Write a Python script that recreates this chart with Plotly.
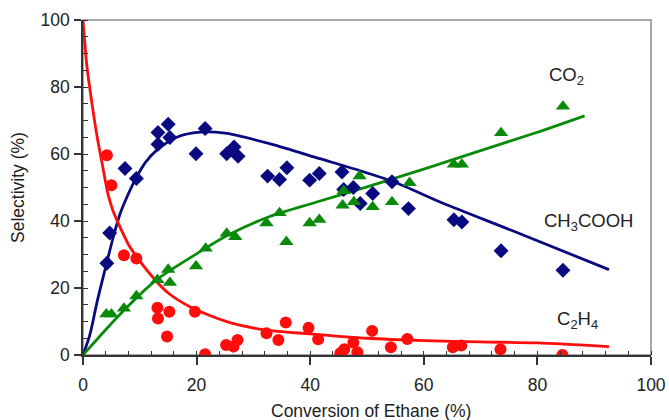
import plotly.graph_objects as go

# ---- data ----
acid_x = [4.2, 4.7, 7.4, 9.4, 13.2, 15.0, 13.2, 15.3, 21.5, 19.9, 25.3, 26.6, 27.3, 32.5, 34.6, 35.9,
          39.9, 41.6, 45.6, 47.6, 45.9, 48.8, 51.0, 54.4, 57.3, 65.3, 66.7, 73.6, 84.5]
acid_y = [27.4, 36.4, 55.7, 52.7, 66.4, 68.9, 62.9, 64.9, 67.6, 60.1, 60.1, 62.1, 59.3, 53.4, 52.4, 55.9,
          52.2, 54.2, 54.6, 50.0, 49.4, 45.2, 48.2, 51.7, 43.7, 40.4, 39.7, 31.1, 25.3]

co2_x = [4.1, 5.0, 7.2, 9.4, 13.1, 15.0, 15.3, 19.9, 21.6, 25.3, 26.8, 32.3, 34.6, 35.8, 39.9, 41.6,
         45.7, 47.7, 51.0, 54.4, 48.7, 45.9, 57.5, 65.3, 66.7, 73.6, 84.5]
co2_y = [12.2, 12.2, 13.9, 17.6, 22.4, 25.5, 21.6, 26.5, 31.8, 36.3, 35.3, 39.4, 42.4, 33.8, 39.4, 40.4,
         44.7, 45.7, 44.2, 45.7, 53.4, 49.0, 51.4, 56.9, 56.9, 66.3, 74.2]

eth_x = [4.2, 5.0, 7.2, 9.4, 13.1, 13.2, 15.2, 14.8, 19.7, 21.5, 25.2, 26.5, 27.2, 32.3, 34.4, 35.7,
         39.7, 41.4, 45.3, 46.0, 47.6, 48.3, 50.9, 54.2, 57.1, 65.1, 66.6, 73.5, 84.4]
eth_y = [59.6, 50.7, 29.8, 28.8, 14.1, 10.9, 12.9, 5.5, 12.9, 0.2, 3.0, 2.5, 4.5, 6.5, 4.5, 9.7,
         8.1, 4.7, 0.5, 1.7, 3.7, 0.8, 7.2, 2.3, 4.8, 2.3, 2.8, 1.7, 0.0]

# fitted model curves
acid_fit_x = [0, 1.2, 2.5, 4.1, 5.3, 6.5, 7.7, 9.4, 11, 12.9, 16.5, 20.6, 25, 33, 41.7, 48.8, 54.7, 63.5, 75.3, 92.6]
acid_fit_y = [0, 6, 16, 27, 35, 42, 47, 53, 57.5, 61, 65, 66.5, 66.2, 63, 58.6, 55, 51.7, 45.2, 37.3, 25.5]

co2_fit_x = [0, 7, 13, 20, 25.3, 33, 41, 50, 60, 70, 80, 88.3]
co2_fit_y = [0, 13, 22.5, 30.2, 35.6, 41.4, 45.6, 50.2, 55.5, 61, 66.5, 71.4]

eth_fit_x = [0, 0.7, 1.5, 2.4, 3.5, 4.4, 5.3, 6.3, 8, 10, 12.9, 15, 18.8, 22, 26, 32, 40, 50, 60, 70, 80, 92.6]
eth_fit_y = [100, 86, 76, 66, 56, 48, 43, 39, 33, 28, 22, 18.5, 14.4, 12, 9.6, 7.5, 6.3, 5, 4.3, 3.9, 3.6, 2.5]

x_ticks = [0, 20, 40, 60, 80, 100]
y_ticks = [0, 20, 40, 60, 80, 100]

BLUE = "#0a0a80"
GREEN = "#0a8a0a"
RED = "#ff0d0d"

L, R, T, B = 83, 18, 20, 65
W, H = 669, 420
PW, PH = W - L - R, H - T - B


def paper(px, py):
    return (px - L) / PW, 1 - (py - T) / PH


fig = go.Figure()
fig.add_trace(go.Scatter(x=acid_fit_x, y=acid_fit_y, mode="lines",
                         line=dict(color=BLUE, width=2.8, shape="spline", smoothing=0.8)))
fig.add_trace(go.Scatter(x=co2_fit_x, y=co2_fit_y, mode="lines",
                         line=dict(color=GREEN, width=2.8, shape="spline", smoothing=0.8)))
fig.add_trace(go.Scatter(x=eth_fit_x, y=eth_fit_y, mode="lines",
                         line=dict(color=RED, width=2.8, shape="spline", smoothing=0.8)))
fig.add_trace(go.Scatter(x=acid_x, y=acid_y, mode="markers",
                         marker=dict(symbol="diamond", size=11.5, color=BLUE)))
fig.add_trace(go.Scatter(x=co2_x, y=co2_y, mode="markers",
                         marker=dict(symbol="triangle-up", size=12.5, color=GREEN)))
fig.add_trace(go.Scatter(x=eth_x, y=eth_y, mode="markers",
                         marker=dict(symbol="circle", size=12, color=RED)))

labels = [("CO<sub>2</sub>", 566, 76), ("CH<sub>3</sub>COOH", 588, 222), ("C<sub>2</sub>H<sub>4</sub>", 577, 320)]
annotations = []
for txt, px, py in labels:
    ax, ay = paper(px, py)
    annotations.append(dict(x=ax, y=ay, xref="paper", yref="paper", text=txt, showarrow=False,
                            xanchor="center", yanchor="middle",
                            font=dict(size=18.5, color="#222")))
# axis titles placed as text
tx, ty = paper(371, 411)
annotations.append(dict(x=tx, y=ty, xref="paper", yref="paper", text="Conversion of Ethane (%)",
                        showarrow=False, xanchor="center", yanchor="middle",
                        font=dict(size=17.5, color="#222")))
tx, ty = paper(18, 188)
annotations.append(dict(x=tx, y=ty, xref="paper", yref="paper", text="Selectivity (%)", textangle=-90,
                        showarrow=False, xanchor="center", yanchor="middle",
                        font=dict(size=17.5, color="#222")))

font = "Liberation Sans, Arial, sans-serif"
fig.update_layout(
    width=W, height=H,
    margin=dict(l=L, r=R, t=T, b=B, autoexpand=False),
    paper_bgcolor="white", plot_bgcolor="white",
    showlegend=False,
    font=dict(family=font, size=17, color="#222"),
    shapes=[dict(type="rect", xref="paper", yref="paper", x0=0, y0=0, x1=1, y1=1,
                 line=dict(color="#8a8a8a", width=1.5), layer="below")],
    annotations=annotations,
)

fig.update_xaxes(range=[0, 100], tickvals=x_ticks, ticks="outside", ticklen=8, tickwidth=1.5,
                 tickcolor="#333", showline=True, linecolor="#333", linewidth=1.5,
                 showgrid=False, zeroline=False, automargin=False, ticklabelstandoff=5,
                 minor=dict(dtick=4, tick0=0, ticks="inside", ticklen=4, tickwidth=1.2, tickcolor="#333"),
                 tickfont=dict(size=17.5))
fig.update_yaxes(range=[0, 100], tickvals=y_ticks, ticks="outside", ticklen=7, tickwidth=1.5,
                 tickcolor="#333", showline=True, linecolor="#333", linewidth=1.5,
                 showgrid=False, zeroline=False, automargin=False, ticklabelstandoff=1,
                 minor=dict(dtick=5, tick0=0, ticks="inside", ticklen=5, tickwidth=1.2, tickcolor="#333"),
                 tickfont=dict(size=17.5))

fig.write_html("out.html")
